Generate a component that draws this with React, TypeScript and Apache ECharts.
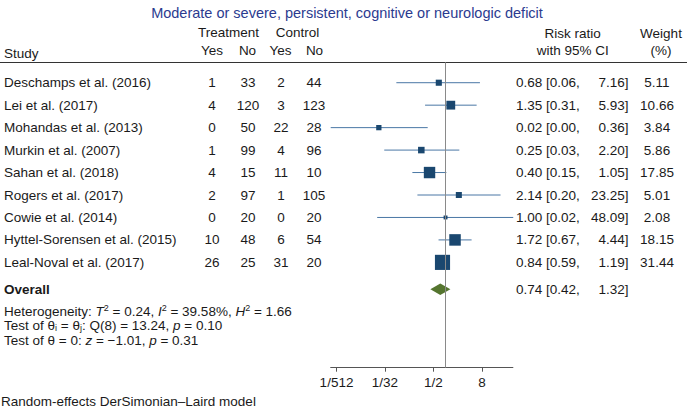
import React, { useEffect, useRef } from "react";
import * as echarts from "echarts";

const titleText = "Moderate or severe, persistent, cognitive or neurologic deficit";
const studies = [
  "Deschamps et al. (2016)",
  "Lei et al. (2017)",
  "Mohandas et al. (2013)",
  "Murkin et al. (2007)",
  "Sahan et al. (2018)",
  "Rogers et al. (2017)",
  "Cowie et al. (2014)",
  "Hyttel-Sorensen et al. (2015)",
  "Leal-Noval et al. (2017)",
];
const trtYes = [1, 4, 0, 1, 4, 2, 0, 10, 26];
const trtNo = [33, 120, 50, 99, 15, 97, 20, 48, 25];
const ctlYes = [2, 3, 22, 4, 11, 1, 0, 6, 31];
const ctlNo = [44, 123, 28, 96, 10, 105, 20, 54, 20];
const riskRatio = [0.68, 1.35, 0.022, 0.25, 0.4, 2.14, 1.0, 1.72, 0.84];
const ciLow = [0.06, 0.31, 0.0014, 0.03, 0.15, 0.2, 0.02, 0.67, 0.59];
const ciHigh = [7.16, 5.93, 0.36, 2.2, 1.05, 23.25, 48.09, 4.44, 1.19];
const weights = [5.11, 10.66, 3.84, 5.86, 17.85, 5.01, 2.08, 18.15, 31.44];
const overallEstimate = [0.74, 0.42, 1.32]; // rr, low, high
const tickLog2 = [-9, -5, -1, 3];
const tickLabels = ["1/512", "1/32", "1/2", "8"];

const FONT = "'Liberation Sans', Arial, Helvetica, sans-serif";
const TXT = "#1a1a1a";
const FS = 13.5;
const OVERALL_ROW = 10.2;

export default function App() {
  const ref = useRef<HTMLDivElement>(null);
  useEffect(() => {
    if (!ref.current) return;
    const chart = echarts.init(ref.current, undefined, { renderer: "svg" });
    const studyData = studies.map((_, i) => [
      Math.log2(riskRatio[i]),
      Math.log2(ciLow[i]),
      Math.log2(ciHigh[i]),
      weights[i],
      i + 1,
    ]);
    const overallData = [
      [
        Math.log2(overallEstimate[0]),
        Math.log2(overallEstimate[1]),
        Math.log2(overallEstimate[2]),
        0,
        OVERALL_ROW,
      ],
    ];
    chart.setOption({
      animation: false,
      grid: {
        left: 330.7,
        right: 174.1,
        top: 62.3,
        bottom: 41.3,
        containLabel: false,
        outerBoundsMode: "none",
      },
      xAxis: {
        type: "value",
        min: -9.48,
        max: 5.56,
        splitLine: { show: false },
        axisLine: { lineStyle: { color: "#555", width: 1 } },
        axisTick: {
          customValues: tickLog2,
          length: 4,
          lineStyle: { color: "#555" },
        },
        axisLabel: {
          customValues: tickLog2,
          formatter: (v: number) => tickLabels[tickLog2.indexOf(Math.round(v))] ?? "",
          color: TXT,
          fontFamily: FONT,
          fontSize: FS,
          margin: 8,
        },
      },
      yAxis: {
        type: "value",
        inverse: true,
        min: 0.091,
        max: 13.69,
        show: false,
        splitLine: { show: false },
      },
      series: [
        {
          type: "custom",
          data: studyData,
          encode: { x: [0, 1, 2], y: 4 },
          renderItem: (_p: any, api: any) => {
            const y = api.value(4);
            const c = api.coord([api.value(0), y]);
            const l = api.coord([api.value(1), y]);
            const h = api.coord([api.value(2), y]);
            const s = 2.7 * Math.sqrt(api.value(3));
            return {
              type: "group",
              children: [
                {
                  type: "line",
                  shape: { x1: l[0], y1: c[1], x2: h[0], y2: c[1] },
                  style: { stroke: "#4a77a5", lineWidth: 1 },
                },
                {
                  type: "rect",
                  shape: { x: c[0] - s / 2, y: c[1] - s / 2, width: s, height: s },
                  style: { fill: "#1a476f" },
                },
              ],
            };
          },
          markLine: {
            silent: true,
            symbol: "none",
            label: { show: false },
            lineStyle: { color: "#8a8a8a", width: 1, type: "solid" },
            data: [{ xAxis: 0 }],
          },
          z: 3,
        },
        {
          type: "custom",
          data: overallData,
          encode: { x: [0, 1, 2], y: 4 },
          renderItem: (_p: any, api: any) => {
            const y = api.value(4);
            const c = api.coord([api.value(0), y]);
            const l = api.coord([api.value(1), y]);
            const h = api.coord([api.value(2), y]);
            const hh = 5.8;
            return {
              type: "polygon",
              shape: {
                points: [
                  [l[0], c[1]],
                  [c[0], c[1] - hh],
                  [h[0], c[1]],
                  [c[0], c[1] + hh],
                ],
              },
              style: { fill: "#55752f" },
            };
          },
          z: 3,
        },
      ],
    });

    const rowY = (r: number) =>
      (chart.convertToPixel({ gridIndex: 0 }, [0, r]) as number[])[1];

    const t = (
      text: string,
      x: number,
      y: number,
      align: string = "left",
      extra: any = {}
    ) => ({
      type: "text",
      x,
      y,
      silent: true,
      style: {
        text,
        fill: TXT,
        fontSize: FS,
        fontFamily: FONT,
        textAlign: align,
        align,
        textVerticalAlign: "middle",
        verticalAlign: "middle",
        ...extra,
      },
    });

    const rich = {
      it: { fontStyle: "italic", fontSize: FS, fontFamily: FONT, fill: TXT, color: TXT },
      sup: { fontSize: 9, fontFamily: FONT, padding: [0, 0, 6, 0], fill: TXT, color: TXT },
      sub: { fontSize: 9, fontFamily: FONT, padding: [4, 0, 0, 0], fill: TXT, color: TXT },
    };

    const g: any[] = [];
    g.push(t(titleText, 347, 13, "center", { fill: "#2b3b8f", fontSize: 14.5 }));
    g.push(t("Treatment", 228.5, 32, "center"));
    g.push(t("Control", 297.5, 32, "center"));
    g.push(t("Study", 4, 53));
    g.push(t("Yes", 212, 50, "center"));
    g.push(t("No", 247.5, 50, "center"));
    g.push(t("Yes", 280.5, 50, "center"));
    g.push(t("No", 314.5, 50, "center"));
    g.push(t("Risk ratio", 572.7, 33, "center"));
    g.push(t("with 95% CI", 572.7, 50, "center"));
    g.push(t("Weight", 661, 33, "center"));
    g.push(t("(%)", 661, 50, "center"));
    g.push({
      type: "line",
      silent: true,
      shape: { x1: 0, y1: 62.5, x2: 687, y2: 62.5 },
      style: { stroke: "#333", lineWidth: 1 },
    });

    studies.forEach((name, i) => {
      const y = rowY(i + 1);
      g.push(t(name, 4, y));
      g.push(t(String(trtYes[i]), 212, y, "center"));
      g.push(t(String(trtNo[i]), 248, y, "center"));
      g.push(t(String(ctlYes[i]), 281, y, "center"));
      g.push(t(String(ctlNo[i]), 314, y, "center"));
      g.push(t(`${riskRatio[i].toFixed(2)} [${ciLow[i].toFixed(2)},`, 516, y));
      g.push(t(`${ciHigh[i].toFixed(2)}]`, 628.5, y, "right"));
      g.push(t(weights[i].toFixed(2), 657, y, "center"));
    });

    const yo = rowY(OVERALL_ROW);
    g.push(t("Overall", 4, yo, "left", { fontWeight: "bold" }));
    g.push(
      t(`${overallEstimate[0].toFixed(2)} [${overallEstimate[1].toFixed(2)},`, 516, yo)
    );
    g.push(t(`${overallEstimate[2].toFixed(2)}]`, 628.5, yo, "right"));

    g.push(
      t(
        "Heterogeneity: {it|T}{sup|2} = 0.24, {it|I}{sup|2} = 39.58%, {it|H}{sup|2} = 1.66",
        4,
        311,
        "left",
        { rich }
      )
    );
    g.push(
      t("Test of θ{sub|i} = θ{sub|j}: Q(8) = 13.24, {it|p} = 0.10", 4, 325.5, "left", { rich })
    );
    g.push(t("Test of θ = 0: {it|z} = −1.01, {it|p} = 0.31", 4, 340, "left", { rich }));
    g.push(t("Random-effects DerSimonian–Laird model", 1, 401.5));

    chart.setOption({ graphic: g });
    return () => chart.dispose();
  }, []);
  return (
    <div
      ref={ref}
      style={{ position: "fixed", left: 0, top: 0, width: 687, height: 409, background: "#fff" }}
    />
  );
}
